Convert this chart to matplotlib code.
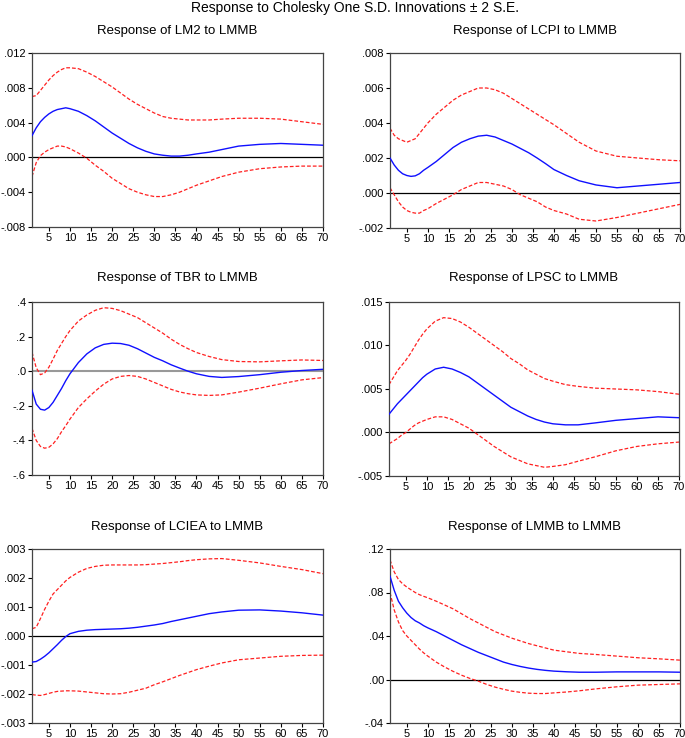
import matplotlib
matplotlib.use("Agg")
import matplotlib.pyplot as plt

plt.rcParams['font.family'] = ['Liberation Sans', 'DejaVu Sans']

periods = [1, 2, 3, 4, 5, 6, 7, 8, 9, 10, 12, 14, 16, 18, 20, 22, 24, 26, 28, 30,
           32, 34, 36, 38, 40, 43, 46, 50, 55, 60, 65, 70]

# LM2
lm2_resp = [0.0025, 0.0034, 0.0041, 0.0046, 0.0050, 0.0053, 0.0055, 0.0056, 0.0057, 0.0056, 0.0053, 0.0048,
            0.0042, 0.0035, 0.0028, 0.0022, 0.0016, 0.0011, 0.0007, 0.0004, 0.00025, 0.00015, 0.00015, 0.00025,
            0.0004, 0.0006, 0.0009, 0.0013, 0.0015, 0.0016, 0.0015, 0.0014]
lm2_up = [0.0070, 0.0071, 0.0077, 0.0083, 0.0089, 0.0094, 0.0098, 0.0101, 0.0103, 0.0103, 0.0102, 0.0098,
          0.0093, 0.0087, 0.0081, 0.0074, 0.0067, 0.0061, 0.0056, 0.0051, 0.0047, 0.0045, 0.0044, 0.0043,
          0.0043, 0.0043, 0.0044, 0.0045, 0.0045, 0.0044, 0.0041, 0.0038]
lm2_lo = [-0.0022, -0.0006, 0.0002, 0.0006, 0.0009, 0.0011, 0.0013, 0.0013, 0.0012, 0.0010, 0.0005, -0.0001,
          -0.0009, -0.0016, -0.0024, -0.0030, -0.0036, -0.0040, -0.0043, -0.0045, -0.0045, -0.0043, -0.0040, -0.0036,
          -0.0032, -0.0027, -0.0022, -0.0017, -0.0013, -0.0011, -0.0010, -0.0010]

# LCPI
lcpi_resp = [0.0020, 0.0016, 0.0013, 0.0011, 0.0010, 0.00095, 0.00098, 0.0011, 0.0013, 0.00146, 0.0018, 0.0022,
             0.0026, 0.0029, 0.0031, 0.00325, 0.0033, 0.0032, 0.0030, 0.0028, 0.00255, 0.0023, 0.0020, 0.00168,
             0.00134, 0.0010, 0.0007, 0.00046, 0.0003, 0.0004, 0.0005, 0.0006]
lcpi_up = [0.0037, 0.0033, 0.0031, 0.0030, 0.0029, 0.0030, 0.0031, 0.0034, 0.0037, 0.0040, 0.0045, 0.0049,
           0.0053, 0.0056, 0.0058, 0.0060, 0.0060, 0.0059, 0.0057, 0.0054, 0.0051, 0.0048, 0.0045, 0.0042,
           0.0039, 0.0034, 0.0029, 0.0024, 0.0021, 0.0020, 0.0019, 0.00184]
lcpi_lo = [0.0003, -0.0001, -0.0005, -0.0008, -0.0010, -0.0011, -0.00115, -0.00115, -0.0010, -0.0009, -0.0006, -0.00035,
           -0.0001, 0.0002, 0.0004, 0.0006, 0.0006, 0.0005, 0.0004, 0.0002, -0.0001, -0.0003, -0.0005, -0.0008,
           -0.0010, -0.0012, -0.0015, -0.0016, -0.0014, -0.00115, -0.0009, -0.00065]

# TBR
tbr_resp = [-0.11, -0.19, -0.22, -0.225, -0.21, -0.18, -0.14, -0.10, -0.055, -0.015, 0.05, 0.10,
            0.135, 0.155, 0.162, 0.16, 0.15, 0.13, 0.105, 0.08, 0.06, 0.037, 0.018, 0.0,
            -0.015, -0.03, -0.036, -0.031, -0.02, -0.006, 0.004, 0.011]
tbr_up = [0.11, 0.02, -0.02, -0.01, 0.023, 0.07, 0.12, 0.16, 0.20, 0.235, 0.29, 0.325,
          0.352, 0.367, 0.363, 0.35, 0.33, 0.31, 0.28, 0.25, 0.22, 0.185, 0.155, 0.13,
          0.108, 0.085, 0.067, 0.056, 0.054, 0.06, 0.065, 0.062]
tbr_lo = [-0.33, -0.40, -0.435, -0.445, -0.44, -0.42, -0.39, -0.35, -0.315, -0.277, -0.21, -0.16,
          -0.115, -0.075, -0.045, -0.03, -0.025, -0.03, -0.045, -0.065, -0.085, -0.105, -0.12, -0.13,
          -0.137, -0.14, -0.137, -0.121, -0.098, -0.073, -0.05, -0.037]

# LPSC
lpsc_resp = [0.0021, 0.0027, 0.0033, 0.0038, 0.0043, 0.0048, 0.0053, 0.0058, 0.0063, 0.0067, 0.0073, 0.0075,
             0.0073, 0.0069, 0.0064, 0.0057, 0.0050, 0.0043, 0.0036, 0.0029, 0.0024, 0.0019, 0.0015, 0.0012,
             0.0010, 0.00088, 0.00088, 0.0011, 0.0014, 0.0016, 0.0018, 0.0017]
lpsc_up = [0.0055, 0.0063, 0.0071, 0.0077, 0.0083, 0.0090, 0.0098, 0.0106, 0.0113, 0.0119, 0.0128, 0.0132,
           0.0131, 0.0127, 0.0121, 0.0114, 0.0107, 0.0100, 0.0093, 0.0085, 0.0079, 0.0072, 0.0067, 0.0062,
           0.0059, 0.0055, 0.0053, 0.0051, 0.0050, 0.0049, 0.0047, 0.0044]
lpsc_lo = [-0.0013, -0.0010, -0.0007, -0.0003, 0.0000, 0.0004, 0.0008, 0.0011, 0.0013, 0.0015, 0.0018, 0.0018,
           0.0015, 0.0010, 0.0005, -0.0002, -0.0009, -0.0016, -0.0022, -0.0028, -0.0032, -0.0036, -0.0038, -0.0040,
           -0.0039, -0.0037, -0.0033, -0.0028, -0.0021, -0.0016, -0.0013, -0.0011]

# LCIEA
lciea_resp = [-0.0009, -0.00088, -0.0008, -0.0007, -0.00058, -0.00044, -0.0003, -0.00015, -0.00002, 0.00008, 0.00016, 0.0002,
              0.00022, 0.00023, 0.00024, 0.00025, 0.00027, 0.0003, 0.00034, 0.00038, 0.00043, 0.0005, 0.00056, 0.00062,
              0.00068, 0.00077, 0.00083, 0.00089, 0.0009, 0.00086, 0.0008, 0.00072]
lciea_up = [0.00025, 0.0003, 0.0006, 0.00092, 0.0012, 0.00145, 0.0016, 0.00175, 0.0019, 0.00202, 0.0022, 0.00233,
            0.0024, 0.00244, 0.00245, 0.00245, 0.00245, 0.00245, 0.00246, 0.00248, 0.0025, 0.00253, 0.00256, 0.0026,
            0.00263, 0.00266, 0.00267, 0.00261, 0.00252, 0.0024, 0.00229, 0.00215]
lciea_lo = [-0.00202, -0.00204, -0.00205, -0.00202, -0.00198, -0.00194, -0.00191, -0.0019, -0.00189, -0.00189, -0.0019, -0.00193,
            -0.00196, -0.00199, -0.002, -0.00199, -0.00194, -0.00187, -0.0018, -0.00168, -0.00158, -0.00147, -0.00136, -0.00126,
            -0.00116, -0.00104, -0.00093, -0.00082, -0.00076, -0.0007, -0.00067, -0.00066]

# LMMB
lmmb_resp = [0.095, 0.082, 0.072, 0.066, 0.061, 0.057, 0.054, 0.052, 0.0495, 0.0475, 0.044, 0.040,
             0.036, 0.032, 0.0285, 0.025, 0.022, 0.019, 0.016, 0.0138, 0.012, 0.0105, 0.0093, 0.0084,
             0.0077, 0.0071, 0.0067, 0.0067, 0.007, 0.007, 0.007, 0.0067]
lmmb_up = [0.11, 0.099, 0.092, 0.088, 0.085, 0.0825, 0.080, 0.078, 0.0765, 0.0751, 0.072, 0.0685,
           0.065, 0.0605, 0.056, 0.052, 0.048, 0.044, 0.041, 0.038, 0.0355, 0.033, 0.031, 0.029,
           0.027, 0.0255, 0.024, 0.023, 0.0215, 0.020, 0.019, 0.0178]
lmmb_lo = [0.08, 0.064, 0.053, 0.045, 0.040, 0.036, 0.032, 0.028, 0.0245, 0.0215, 0.016, 0.0115,
           0.0075, 0.004, 0.001, -0.0015, -0.0045, -0.007, -0.009, -0.0107, -0.0118, -0.0126, -0.0129, -0.0129,
           -0.0123, -0.0115, -0.0104, -0.0086, -0.0067, -0.0052, -0.0046, -0.004]

titles = ["Response of LM2 to LMMB", "Response of LCPI to LMMB", "Response of TBR to LMMB",
          "Response of LPSC to LMMB", "Response of LCIEA to LMMB", "Response of LMMB to LMMB"]

yticks_list = [
    [-0.008, -0.004, 0.000, 0.004, 0.008, 0.012],
    [-0.002, 0.000, 0.002, 0.004, 0.006, 0.008],
    [-0.6, -0.4, -0.2, 0.0, 0.2, 0.4],
    [-0.005, 0.000, 0.005, 0.010, 0.015],
    [-0.003, -0.002, -0.001, 0.000, 0.001, 0.002, 0.003],
    [-0.04, 0.00, 0.04, 0.08, 0.12],
]
ylabels_list = [
    ["-.008", "-.004", ".000", ".004", ".008", ".012"],
    ["-.002", ".000", ".002", ".004", ".006", ".008"],
    ["-.6", "-.4", "-.2", ".0", ".2", ".4"],
    ["-.005", ".000", ".005", ".010", ".015"],
    ["-.003", "-.002", "-.001", ".000", ".001", ".002", ".003"],
    ["-.04", ".00", ".04", ".08", ".12"],
]
xticks = [5, 10, 15, 20, 25, 30, 35, 40, 45, 50, 55, 60, 65, 70]

series = [(lm2_resp, lm2_up, lm2_lo), (lcpi_resp, lcpi_up, lcpi_lo), (tbr_resp, tbr_up, tbr_lo),
          (lpsc_resp, lpsc_up, lpsc_lo), (lciea_resp, lciea_up, lciea_lo), (lmmb_resp, lmmb_up, lmmb_lo)]

W, H = 685, 738
fig = plt.figure(figsize=(W / 100, H / 100), dpi=100)

# pixel boxes: left, right, top, bottom
boxes = [(32, 323, 53, 227), (390, 680, 53, 228),
         (32, 323, 302, 475), (389, 679, 302, 476),
         (32, 323, 549, 723), (390, 680, 549, 723)]
title_y = [31, 31, 278, 278, 527, 527]

fig.text(355 / W, 1 - 8 / H, "Response to Cholesky One S.D. Innovations \u00b1 2 S.E.",
         ha='center', va='center', fontsize=10)

for i, (box, (resp, up, lo)) in enumerate(zip(boxes, series)):
    l, r, t, b = box
    ax = fig.add_axes([l / W, 1 - b / H, (r - l) / W, (b - t) / H])
    zc = '#999999' if i == 2 else 'black'
    zw = 1.5 if i == 2 else 0.9
    ax.axhline(0, color=zc, lw=zw, zorder=1)
    ax.plot(periods, up, color='#ff2020', lw=0.9, linestyle=(0, (3, 1.6)), zorder=2)
    ax.plot(periods, lo, color='#ff2020', lw=0.9, linestyle=(0, (3, 1.6)), zorder=2)
    ax.plot(periods, resp, color='#1010ff', lw=1.0, zorder=3)
    ax.set_xlim(1, 70)
    yt = yticks_list[i]
    ax.set_ylim(yt[0], yt[-1])
    ax.set_yticks(yt)
    ax.set_yticklabels(ylabels_list[i])
    ax.set_xticks(xticks)
    ax.set_xticklabels([str(v) for v in xticks])
    ax.tick_params(axis='both', direction='out', length=3, width=0.8, labelsize=8, pad=1.5, colors='black')
    for s in ax.spines.values():
        s.set_color('#444444')
        s.set_linewidth(0.9)
    fig.text((l + r) / 2 / W, 1 - title_y[i] / H, titles[i], ha='center', va='center', fontsize=9.5)

fig.savefig("out.png", dpi=100)
